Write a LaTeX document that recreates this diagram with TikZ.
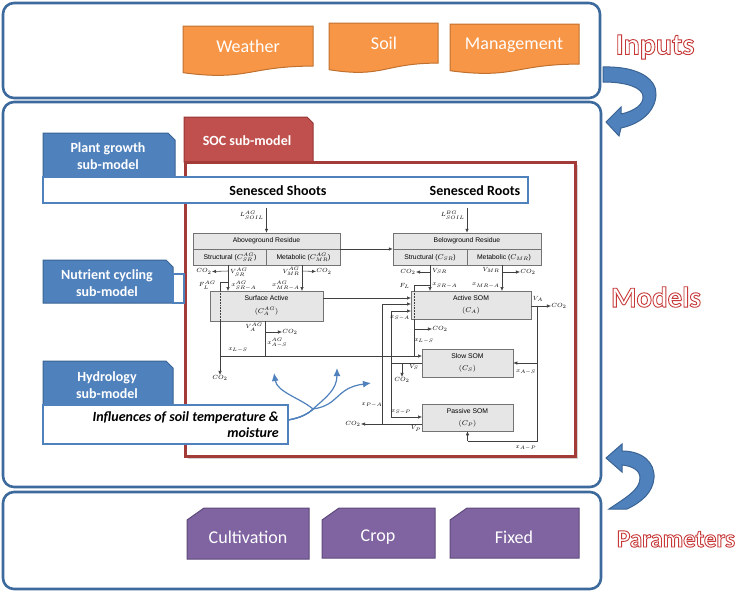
\documentclass[tikz,border=0pt]{standalone}
\usepackage{fontspec}
\setmainfont{Carlito}
\newfontfamily\arialf{Liberation Sans}
\usetikzlibrary{arrows.meta,shadows}
\definecolor{frameblue}{HTML}{3C6A9C}
\definecolor{tabblue}{HTML}{4F81BD}
\definecolor{tabblueD}{HTML}{3A6494}
\definecolor{socred}{HTML}{C0504D}
\definecolor{socredD}{HTML}{953735}
\definecolor{framered}{HTML}{A33B38}
\definecolor{orangeF}{HTML}{F79646}
\definecolor{orangeD}{HTML}{C0712F}
\definecolor{purpleF}{HTML}{8064A2}
\definecolor{purpleD}{HTML}{5D4A7A}
\definecolor{boxgrey}{HTML}{E6E6E6}
\newcommand{\outlined}[1]{\special{pdf:literal direct 0.78 0.22 0.22 RG 0.9 w 2 Tr}#1\special{pdf:literal direct 0 Tr}}
\newcommand{\docshape}[4]{\draw[docst] (#1,#2) -- (#3,#2) -- (#3,{#2+0.802*#4}) .. controls ({(#1+#3)/2},{#2+0.802*#4}) and ({(#1+#3)/2},{#2+1.107*#4}) .. (#1,{#2+0.934*#4}) -- cycle;}
\newcommand{\snipshape}[4]{\draw[snipst] ({#1+17},#2) -- (#3,#2) -- (#3,#4) -- (#1,#4) -- (#1,{#2+12}) -- cycle;}
\newcommand{\tabshape}[4]{\draw[tabst] (#1,#4) -- (#1,#2) -- ({#3-7},#2) -- (#3,{#2+7}) -- (#3,#4) -- cycle;}
\tikzset{
 outerbox/.style={draw=frameblue, line width=2.6pt, rounded corners=11pt},
 docst/.style={draw=orangeD, fill=orangeF, line width=1pt},
 snipst/.style={draw=purpleD, fill=purpleF, line width=1pt},
 boxlabel/.style={text=white, font=\fontsize{18}{20}\selectfont, inner sep=0pt},
 tabst/.style={draw=tabblueD, fill=tabblue, line width=1pt},
 tabtext/.style={text=white, font=\bfseries\fontsize{14}{17}\selectfont, align=center, inner sep=0pt},
 bandst/.style={draw=tabblue, fill=white, line width=1.6pt},
 bandtext/.style={font=\bfseries\fontsize{14}{16}\selectfont, inner sep=0pt},
 gbox/.style={draw=black!55, fill=boxgrey, line width=0.5pt, inner sep=0pt},
 btxt/.style={font=\arialf\fontsize{6.8}{7.5}\selectfont, inner sep=0pt},
 lbl/.style={font=\fontsize{6.2}{7}\selectfont, inner sep=0.2pt},
 ln/.style={draw=black!75, line width=0.55pt},
 flow/.style={ln, -{Latex[length=4pt,width=3.4pt]}},
 infl/.style={draw=tabblue, line width=1.2pt, -{Latex[length=8pt,width=7pt]}},
 bigarr/.style={draw=tabblueD, fill=tabblue, line width=1pt},
 outl/.style={text=white, inner sep=0pt},
}
\begin{document}
\begin{tikzpicture}[x=1pt,y=-1pt]
\useasboundingbox (0,0) rectangle (738,592);

% outer frames
\draw[outerbox] (3,3) rectangle (600,98);
\draw[outerbox] (3,102) rectangle (601,487);
\draw[outerbox] (3,492) rectangle (601,589);

% big curved arrows
\draw[bigarr] (603,67) .. controls (640,66) and (657,80) .. (656,95) .. controls (655,112) and (640,124) .. (621,128) -- (619,136) -- (606,122) -- (621,107) -- (621,114) .. controls (635,111) and (644,104) .. (643,96) .. controls (642,88) and (628,82) .. (603,82) -- cycle;
\draw[bigarr] (609,509) .. controls (625,498) and (640,490) .. (640,478) .. controls (640,470) and (632,466) .. (622,465) -- (622,472) -- (606,458) -- (622,444) -- (622,451) .. controls (642,451) and (655,462) .. (654,478) .. controls (653,492) and (642,502) .. (627,509) -- cycle;

% side titles
\node[outl, font=\bfseries\fontsize{30}{32}\selectfont] (inputs) at (655,47) {\outlined{Inputs}};
\node[outl, font=\bfseries\fontsize{29}{31}\selectfont] (models) at (656,297) {\outlined{Models}};
\node[outl, font=\bfseries\fontsize{25}{28}\selectfont] (params) at (676,539) {\outlined{Parameters}};

% inputs
\docshape{183}{26}{313}{50}
\docshape{329}{23}{438}{50}
\docshape{450}{24}{579}{50}
\node[boxlabel] (weather) at (248,46) {Weather};
\node[boxlabel] (soil) at (384,43) {Soil};
\node[boxlabel] (mgmt) at (514,45) {Management};

% parameters
\snipshape{187}{508}{309}{559}
\snipshape{322}{508}{435}{558}
\snipshape{450}{508}{579}{558}
\node[boxlabel] (cult) at (248,537) {Cultivation};
\node[boxlabel] (crop) at (378,537) {Crop};
\node[boxlabel] (fixed) at (514,537) {Fixed};

% SOC sub-model tab and frame
\draw[fill=socred, draw=socredD, line width=1pt] (184,162) -- (184,117) -- (307,117) -- (313,123) -- (313,162) -- cycle;
\node[tabtext] (soc) at (247,141) {SOC sub-model};
\draw[draw=framered, line width=3pt, fill=white, drop shadow={shadow xshift=3pt, shadow yshift=-3pt, opacity=0.35, fill=black!50}] (185,162) rectangle (575,456);

% ---------- SOC flow diagram ----------
\node[gbox, minimum width=147pt, minimum height=32pt] (agr) at (266.5,249) {};
\node[gbox, minimum width=148pt, minimum height=32pt] (bgr) at (467,249) {};
\node[gbox, minimum width=113pt, minimum height=30pt] (sa) at (266.5,306) {};
\node[gbox, minimum width=120pt, minimum height=28pt] (as) at (471,305) {};
\node[gbox, minimum width=91pt, minimum height=28pt] (ss) at (467.5,363) {};
\node[gbox, minimum width=91pt, minimum height=27pt] (ps) at (467.5,417.5) {};

\draw[black!55, line width=0.5pt] (agr.west) -- (agr.east) (agr.center) -- (agr.south);
\draw[black!55, line width=0.5pt] (bgr.west) -- (bgr.east) (bgr.center) -- (bgr.south);
\node[btxt] (agrT) at (266.5,241) {Aboveground Residue};
\node[btxt] (agrS) at (230,257.5) {Structural ($C_{SR}^{AG}$)};
\node[btxt] (agrM) at (303.5,257.5) {Metabolic ($C_{MR}^{AG}$)};
\node[btxt] (bgrT) at (467,241) {Belowground Residue};
\node[btxt] (bgrS) at (430,257.5) {Structural ($C_{SR}$)};
\node[btxt] (bgrM) at (504,257.5) {Metabolic ($C_{MR}$)};
\node[btxt] (saT) at (266.5,298) {Surface Active};
\node[btxt] (saC) at (266.5,311.5) {$(C_{A}^{AG})$};
\node[btxt] (asT) at (471,298) {Active SOM};
\node[btxt] (asC) at (471,311) {$(C_{A})$};
\node[btxt] (ssT) at (467.5,356) {Slow SOM};
\node[btxt] (ssC) at (467.5,369) {$(C_{S})$};
\node[btxt] (psT) at (467.5,411) {Passive SOM};
\node[btxt] (psC) at (467.5,424) {$(C_{P})$};

% inputs of litter
\coordinate (lagS) at (266.5,208);
\coordinate (lbgS) at (467,208);
\draw[flow] (lagS) -- (agr.north);
\draw[flow] (lbgS) -- (bgr.north);
\node[lbl, anchor=east] (lagL) at (264,215) {$L_{SOIL}^{AG}$};
\node[lbl, anchor=east] (lbgL) at (465,215) {$L_{SOIL}^{BG}$};
\draw[flow] (agr.east) -- (bgr.west);

% CO2 labels
\node[lbl] (co2a) at (204,271.5) {$CO_2$};
\node[lbl] (co2b) at (324,271.5) {$CO_2$};
\node[lbl] (co2c) at (220,378) {$CO_2$};
\node[lbl] (co2d) at (290,332) {$CO_2$};
\node[lbl] (co2e) at (408,272) {$CO_2$};
\node[lbl] (co2g) at (528,272) {$CO_2$};
\node[lbl] (co2f) at (440,329) {$CO_2$};
\node[lbl] (co2h) at (559,306) {$CO_2$};
\node[lbl] (co2i) at (402,380) {$CO_2$};
\node[lbl] (co2j) at (353,424) {$CO_2$};

% aboveground fluxes
\coordinate (jA1) at (228,271);
\coordinate (jA2) at (302,271);
\coordinate (fA) at (228,282);
\coordinate (fA1) at (220,282);
\draw[flow] (228,265) -- (228,291);
\draw[flow] (jA1) -- (co2a.east);
\draw[flow] (302,265) -- (302,291);
\draw[flow] (jA2) -- (co2b.west);
\draw[ln] (fA) -- (fA1) -- (220,291);
\draw[ln, densely dotted] (220,291) -- (220,321);
\draw[flow] (220,321) -- (co2c.north);
\node[lbl, anchor=west] at (230,272) {$V_{SR}^{AG}$};
\node[lbl, anchor=west] at (231,285.5) {$x_{SR-A}^{AG}$};
\node[lbl, anchor=east] at (216,285) {$F_{L}^{AG}$};
\node[lbl, anchor=east] at (300,271.5) {$V_{MR}^{AG}$};
\node[lbl, anchor=east] at (300,285.5) {$x_{MR-A}^{AG}$};

% surface active outputs
\coordinate (saE) at (323,298);
\draw[flow] (saE) -- (411,298);
\coordinate (jA3) at (265,332);
\draw[ln] (265,321) -- (265,356);
\draw[flow] (jA3) -- (co2d.west);
\node[lbl, anchor=east] at (263,327) {$V_{A}^{AG}$};
\node[lbl, anchor=west] at (267,343) {$x_{A-S}^{AG}$};
\coordinate (lsA) at (220,356);
\draw[flow] (lsA) -- (422,356);
\node[lbl] at (238,350) {$x_{L-S}$};

% belowground fluxes
\coordinate (jB1) at (430,272);
\coordinate (jB2) at (502,272);
\draw[flow] (430,265) -- (430,291);
\draw[flow] (jB1) -- (co2e.east);
\draw[flow] (502,265) -- (502,291);
\draw[flow] (jB2) -- (co2g.west);
\draw[ln] (430,285) -- (414,285) -- (414,291);
\draw[ln, densely dotted] (414,291) -- (414,319);
\draw[ln] (414,319) -- (414,356);
\coordinate (jB3) at (414,329);
\draw[flow] (jB3) -- (co2f.west);
\node[lbl, anchor=west] at (432,271) {$V_{SR}$};
\node[lbl, anchor=west] at (432,285.5) {$x_{SR-A}$};
\node[lbl, anchor=east] at (410,286) {$F_{L}$};
\node[lbl, anchor=east] at (500,270) {$V_{MR}$};
\node[lbl, anchor=east] at (500,285.5) {$x_{MR-A}$};
\node[lbl] at (424,341) {$x_{L-S}$};

% active SOM outputs
\draw[flow] (531,306) -- (co2h.west);
\node[lbl] at (538,299) {$V_{A}$};
\draw[ln] (537,306) -- (537,441) -- (467.5,441);
\draw[flow] (467.5,441) -- (ps.south);
\draw[flow] (537,363) -- (ss.east);
\node[lbl] at (526,372) {$x_{A-S}$};
\node[lbl] at (526,448) {$x_{A-P}$};

% slow SOM outputs
\draw[ln] (ss.west) -- (391,363);
\draw[flow] (402,363) -- (co2i.north);
\node[lbl] at (414,367) {$V_{S}$};
\draw[ln] (391,417) -- (391,311);
\draw[flow] (391,311) -- (411,311);
\draw[flow] (391,417) -- (422,417);
\node[lbl] at (400,318) {$x_{S-A}$};
\node[lbl] at (401,412) {$x_{S-P}$};

% passive SOM outputs
\draw[flow] (422,424) -- (co2j.east);
\node[lbl] at (416,428.5) {$V_{P}$};
\draw[ln] (382,424) -- (382,304);
\draw[flow] (382,304) -- (411,304);
\node[lbl] at (372,405) {$x_{P-A}$};

% ---------- sub-model tabs ----------
\tabshape{43}{133}{175}{177}
\node[tabtext] (plant) at (108,156) {Plant growth\\sub-model};
\draw[bandst] (43,177) rectangle (528,203);
\node[bandtext] (shoots) at (278,191) {Senesced Shoots};
\node[bandtext] (roots) at (475,191) {Senesced Roots};

\tabshape{43}{260}{173}{303}
\draw[bandst, line width=1.3pt] (173,274) rectangle (184,303);
\node[tabtext] (nutr) at (107,283) {Nutrient cycling\\sub-model};

\tabshape{43}{361}{173}{405}
\node[tabtext] (hydro) at (107,385) {Hydrology\\sub-model};
\draw[bandst] (43,405) rectangle (288,444);
\node[font=\bfseries\itshape\fontsize{14}{16}\selectfont, align=right, anchor=east, inner sep=0pt] (infl) at (279,425) {Influences of soil temperature \&\\moisture};

% influence arrows
\coordinate (infS) at (288,420);
\draw[infl] (infS) .. controls (300,418) and (308,414) .. (313,409) .. controls (300,398) and (277,392) .. (274,373);
\draw[infl] (infS) .. controls (300,418) and (308,414) .. (313,409) .. controls (325,398) and (337,390) .. (337,368);
\draw[infl] (infS) .. controls (300,418) and (308,414) .. (313,409) .. controls (340,405) and (335,388) .. (371,383);
\end{tikzpicture}
\end{document}
